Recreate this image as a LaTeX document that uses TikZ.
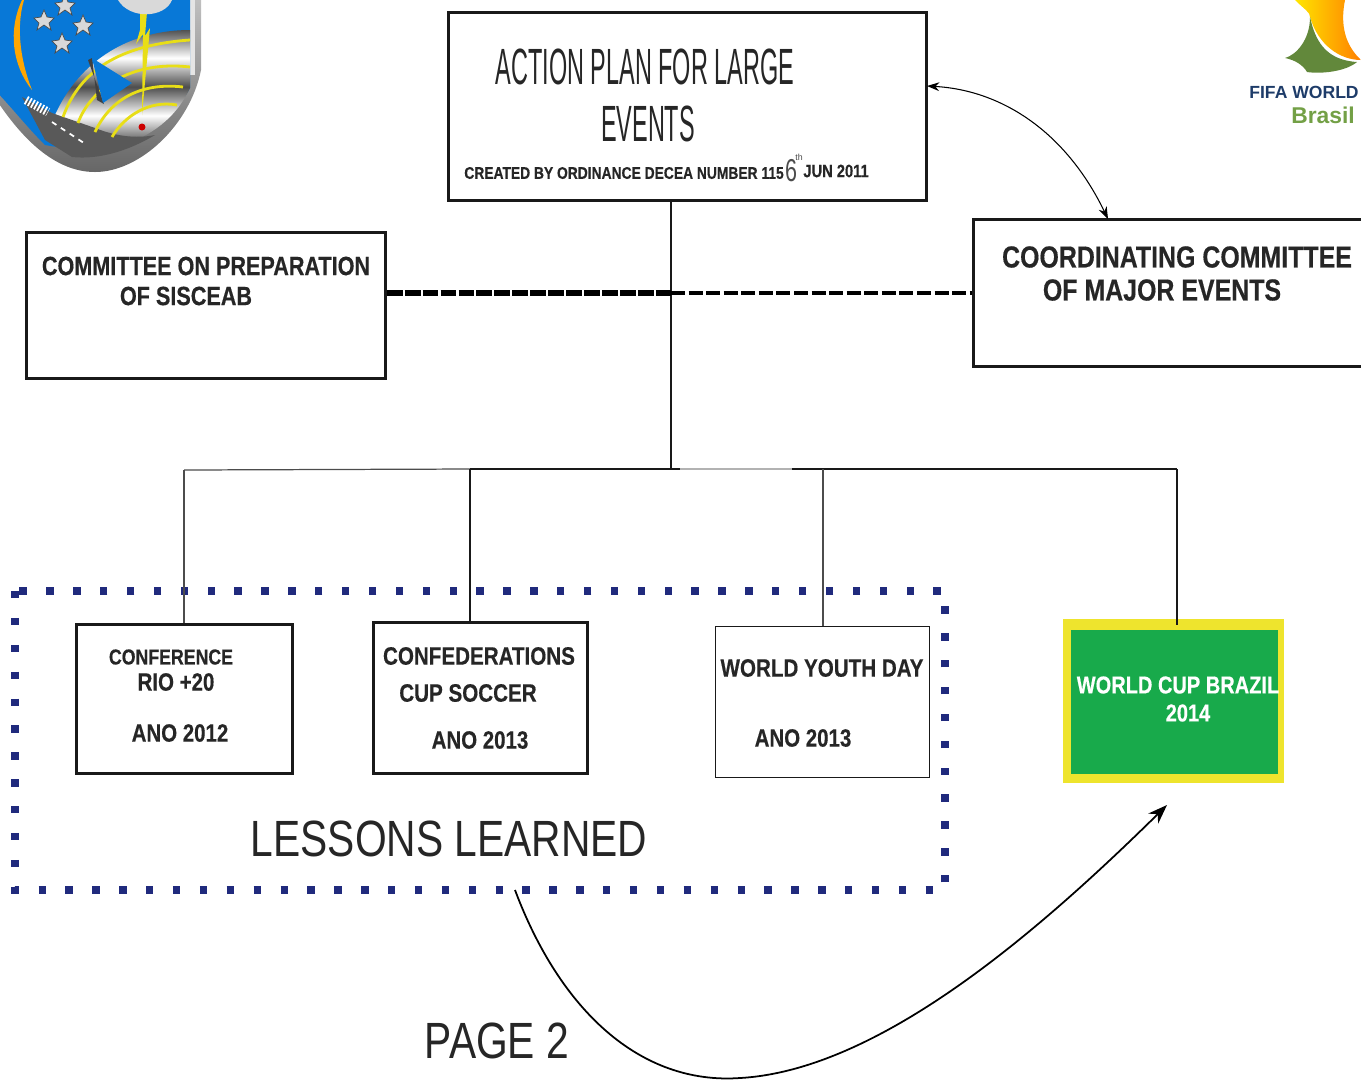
\documentclass[tikz,border=0pt]{standalone}
\usepackage{fontspec}
\setmainfont{Liberation Sans}
\newfontfamily\titlefont[FakeStretch=0.46]{Liberation Sans}
\newfontfamily\slimfont[FakeStretch=0.68]{Liberation Sans}
\newfontfamily\slimbold[FakeStretch=0.82,FakeBold=0.4]{Liberation Sans Bold}
\newfontfamily\widefont[FakeStretch=0.80]{Liberation Sans}
\usetikzlibrary{arrows.meta,positioning}
\definecolor{dotblue}{RGB}{32,42,125}
\definecolor{cupgreen}{RGB}{24,170,75}
\definecolor{cupyellow}{RGB}{238,228,45}
\definecolor{shieldblue}{RGB}{8,120,215}
\definecolor{fifablue}{RGB}{30,60,105}
\definecolor{fifagreen}{RGB}{115,160,70}
\pgfdeclareverticalshading{bands}{100bp}{color(0bp)=(black!70); color(12bp)=(white); color(24bp)=(black!70);
  color(36bp)=(white); color(48bp)=(black!70); color(60bp)=(white); color(72bp)=(black!70); color(84bp)=(white); color(100bp)=(black!70)}
\tikzset{
  box/.style={draw=black!90,line width=1.6pt,fill=white,inner sep=0pt,anchor=north west},
  thinbox/.style={box,line width=0.7pt},
  label/.style={inner sep=0pt,font=\slimbold\fontsize{14.3}{15}\selectfont,text=black!85},
  smalllabel/.style={label,font=\slimbold\fontsize{14.2}{15}\selectfont},
  tiny/.style={label,font=\slimbold\fontsize{9.6}{10}\selectfont},
  headline/.style={inner sep=0pt,font=\titlefont\fontsize{29}{29}\selectfont,text=black!85},
  bigline/.style={inner sep=0pt,font=\widefont\fontsize{29}{29}\selectfont,text=black!85},
  link/.style={line width=1.4pt,black!90},
  wire/.style={line width=0.7pt,black!70},
  arc/.style={yellow!90!black,line width=1.6pt}
}
\begin{document}
\begin{tikzpicture}[x=0.02cm,y=-0.02cm]
    \useasboundingbox (0,0) rectangle (1361,1080);

    % left badge
    \begin{scope}
        \clip (0,0) rectangle (210,180);
        \shade[top color=black!25,bottom color=black!60] (-10,0) -- (201,0) -- (201,70) .. controls (190,125) and (140,172) .. (95,172)
            .. controls (50,172) and (15,130) .. (-10,90) -- cycle;
        \fill[black!10] (190,0) rectangle (195,75);
        \fill[shieldblue] (-10,0) -- (190,0) -- (190,88) .. controls (170,125) and (130,150) .. (75,150)
            -- (45,145) .. controls (25,125) and (10,105) .. (-10,85) -- cycle;
        % stripes
        \begin{scope}
            \clip (55,115) .. controls (80,60) and (130,30) .. (190,30) -- (190,88)
                .. controls (175,120) and (150,135) .. (125,145) -- (60,122) -- cycle;
            \shade[shading=bands] (50,22) rectangle (195,142);
        \end{scope}
        % runway
        \fill[orange!70!yellow] (22,0) .. controls (8,30) and (12,65) .. (32,90) .. controls (22,65) and (15,30) .. (24,0) -- cycle;
        \fill[black!65] (22,97) -- (52,113) -- (95,128) .. controls (120,138) and (140,138) .. (155,135)
            .. controls (130,150) and (100,160) .. (72,157) -- (45,140) -- cycle;
        \draw[white,line width=1pt,dashed] (52,122) -- (87,145);
        \draw[white,line width=5pt,dash pattern=on 1pt off 1pt] (26,100) -- (48,112);
        % yellow arcs and bolt
        \draw[arc] (63,117) .. controls (80,70) and (120,45) .. (190,40);
        \draw[arc] (78,123) .. controls (90,90) and (130,60) .. (190,67);
        \draw[arc] (95,132) .. controls (110,100) and (140,82) .. (183,87);
        \draw[arc] (112,137) .. controls (125,115) and (150,100) .. (177,105);
        \fill[yellow!90!black] (140,0) -- (140,30) -- (136,44) -- (143,34) -- (142,115) -- (150,28) -- (145,36) -- (148,0) -- cycle;
        \fill[red!80!black] (142,127) circle (3.5);
        \fill[black!15] (118,0) -- (172,0) .. controls (165,18) and (130,20) .. (118,0) -- cycle;
        % triangle
        \fill[black!75] (88,60) -- (104,104) -- (97,100) -- (92,58) -- cycle;
        \fill[shieldblue] (92,58) -- (132,83) -- (103,103) -- cycle;
        % stars
        \foreach \xpos/\ypos in {65/5,44/20,83/25,62/43}
            \fill[black!15,draw=black!70] (\xpos,\ypos-10) -- (\xpos+3,\ypos-3) -- (\xpos+10,\ypos-2) -- (\xpos+5,\ypos+3)
                -- (\xpos+7,\ypos+10) -- (\xpos,\ypos+5) -- (\xpos-7,\ypos+10) -- (\xpos-5,\ypos+3)
                -- (\xpos-10,\ypos-2) -- (\xpos-3,\ypos-3) -- cycle;
    \end{scope}

    % right logo
    \begin{scope}
        \clip (1200,0) rectangle (1361,140);
        \shade[left color=yellow!80!orange,right color=orange] (1295,0) .. controls (1305,10) and (1310,12) .. (1310,17)
            .. controls (1318,45) and (1340,60) .. (1361,60) .. controls (1345,45) and (1340,25) .. (1345,0) -- cycle;
        \fill[fifagreen!85!black] (1310,17) .. controls (1315,40) and (1325,60) .. (1357,62)
            .. controls (1345,72) and (1320,74) .. (1307,72) .. controls (1303,65) and (1295,60) .. (1285,58)
            .. controls (1296,55) and (1310,40) .. (1310,17) -- cycle;
    \end{scope}
    \node[inner sep=0pt,text=fifablue] (fifa) at (1304,92) {\fontsize{10}{10}\selectfont\bfseries FIFA WORLD};
    \node[inner sep=0pt,text=fifagreen] (brasil) at (1323,115) {\fontsize{13}{13}\selectfont\bfseries Brasil};

    % dotted frame
    \draw[dotblue,line width=4.2pt,dash pattern=on 4.2pt off 11.1pt] (15,591) rectangle (945,890);
    \coordinate (lessonsout) at (515,890);

    % boxes
    \node[box,minimum width=478*0.02cm,minimum height=188*0.02cm] (plan) at (447,11) {};
    \node[box,minimum width=359*0.02cm,minimum height=146*0.02cm] (sisceab) at (25,231) {};
    \node[box,minimum width=400*0.02cm,minimum height=147*0.02cm] (major) at (972,218) {};
    \node[box,minimum width=216*0.02cm,minimum height=149*0.02cm] (rio) at (75,623) {};
    \node[box,minimum width=214*0.02cm,minimum height=151*0.02cm] (confed) at (372,621) {};
    \node[thinbox,minimum width=214*0.02cm,minimum height=151*0.02cm] (youth) at (715,626) {};
    \node[fill=cupyellow,minimum width=221*0.02cm,minimum height=164*0.02cm,inner sep=0pt,anchor=north west] (cup) at (1063,619) {};
    \node[fill=cupgreen,minimum width=207*0.02cm,minimum height=144*0.02cm,inner sep=0pt,anchor=north west] (cupinner) at (1071,630) {};

    % texts
    \node[headline] (plana) at (645,67) {ACTION PLAN FOR LARGE};
    \node[headline] (planb) at (648,124) {EVENTS};
    \node[tiny,anchor=west] (planc) at (464,173) {CREATED BY ORDINANCE DECEA NUMBER 115};
    \node[inner sep=0pt,font=\slimfont\fontsize{18}{18}\selectfont,text=black!70] (pland) at (791,171) {6};
    \node[inner sep=0pt,font=\fontsize{5}{5}\selectfont,text=black!70] (plane) at (799,157) {th};
    \node[tiny,anchor=west,font=\slimbold\fontsize{10.2}{11}\selectfont] (planf) at (803,171) {JUN 2011};
    \node[label,font=\slimbold\fontsize{15}{15}\selectfont] (sisceaba) at (206,266) {COMMITTEE ON PREPARATION};
    \node[label,font=\slimbold\fontsize{15}{15}\selectfont] (sisceabb) at (186,296) {OF SISCEAB};
    \node[label,font=\slimbold\fontsize{17.3}{18}\selectfont] (majora) at (1177,257) {COORDINATING COMMITTEE};
    \node[label,font=\slimbold\fontsize{17.3}{18}\selectfont] (majorb) at (1162,290) {OF MAJOR EVENTS};
    \node[smalllabel,font=\slimbold\fontsize{12.3}{13}\selectfont] (rioa) at (171,657) {CONFERENCE};
    \node[smalllabel] (riob) at (176,682) {RIO +20};
    \node[smalllabel] (rioc) at (180,733) {ANO 2012};
    \node[label] (confeda) at (479,656) {CONFEDERATIONS};
    \node[label] (confedb) at (468,693) {CUP SOCCER};
    \node[smalllabel] (confedc) at (480,740) {ANO 2013};
    \node[label] (youtha) at (822,668) {WORLD YOUTH DAY};
    \node[smalllabel] (youthb) at (803,738) {ANO 2013};
    \node[smalllabel,text=white,font=\slimbold\fontsize{13.9}{15}\selectfont] (cupa) at (1178,685) {WORLD CUP BRAZIL};
    \node[smalllabel,text=white,font=\slimbold\fontsize{13.9}{15}\selectfont] (cupb) at (1188,713) {2014};
    \node[bigline] (lessons) at (449,839) {LESSONS LEARNED};
    \node[bigline] (page) at (497,1041) {PAGE 2};

    % tree
    \coordinate (trunk) at (671,469);
    \coordinate (leftend) at (184,470);
    \coordinate (confedtop) at (470,469);
    \coordinate (youthtop) at (823,469);
    \coordinate (rightend) at (1177,469);
    \coordinate (cuptop) at (1177,625);
    \coordinate (dashmid) at (671,293);
    \draw[link] (plan.south -| trunk) -- (trunk);
    \draw[wire] (leftend) -- (confedtop);
    \draw[link] (confedtop) -- (680,469);
    \draw[wire,black!30] (680,469) -- (792,469);
    \draw[link] (792,469) -- (rightend);
    \draw[wire] (leftend) -- (rio.north -| leftend);
    \draw[link] (confedtop) -- (confed.north -| confedtop);
    \draw[wire] (youthtop) -- (youth.north -| youthtop);
    \draw[link] (rightend) -- (cuptop);

    % dashed links
    \draw[line width=3pt,dash pattern=on 9pt off 1.2pt] (sisceab.east |- dashmid) -- (dashmid);
    \draw[line width=2pt,dash pattern=on 8pt off 2pt] (dashmid) -- (major.west |- dashmid);

    % curved arrows
    \coordinate (planout) at (927,86);
    \coordinate (majorin) at (1108,219);
    \coordinate (cuparrow) at (1167,805);
    \draw[{Stealth[length=7pt,width=5pt]}-{Stealth[length=7pt,width=5pt]},line width=0.6pt] (planout) .. controls (1000,90) and (1065,130) .. (majorin);
    \draw[-{Stealth[length=11pt,width=8pt]},line width=1pt] (lessonsout) .. controls (560,1010) and (640,1085) .. (740,1078)
        .. controls (880,1070) and (1040,930) .. (cuparrow);
\end{tikzpicture}
\end{document}
